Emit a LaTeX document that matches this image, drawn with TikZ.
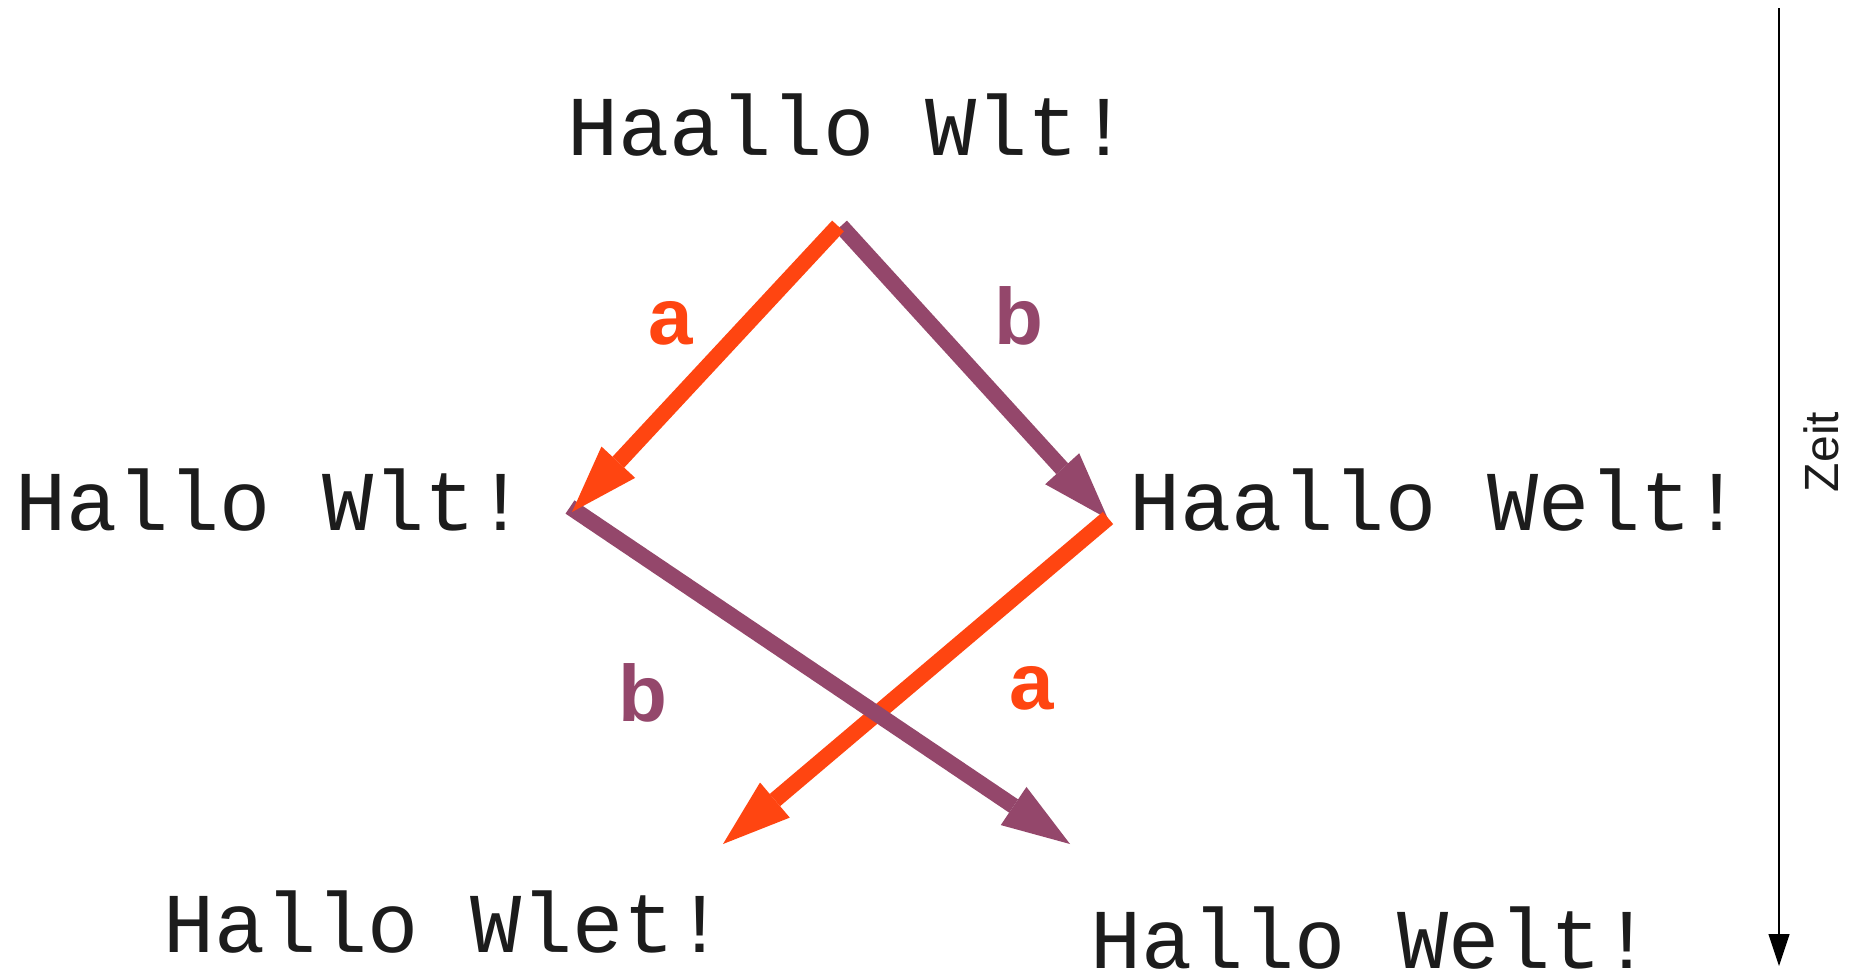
\documentclass[tikz,border=0pt]{standalone}
\usepackage{fontspec}
\setmonofont{Liberation Mono}
\setsansfont{Liberation Sans}
\usetikzlibrary{arrows.meta}
\definecolor{orangeA}{RGB}{255,69,17}
\definecolor{purpleB}{RGB}{148,71,107}
\definecolor{ink}{RGB}{28,28,28}
\tikzset{
  word/.style={inner sep=0pt, anchor=base west, text=ink, font=\ttfamily\fontsize{42.6}{50}\selectfont},
  lbl/.style={inner sep=0pt, anchor=base, font=\sffamily\bfseries\fontsize{40}{46}\selectfont},
  opA/.style={draw=orangeA, line width=8pt, -{Triangle[length=34pt,width=23pt,line width=0pt]}},
  opB/.style={draw=purpleB, line width=8pt, -{Triangle[length=34pt,width=23pt,line width=0pt]}},
  timeaxis/.style={draw=black, line width=0.6pt, -{Triangle[length=16pt,width=10.5pt]}}
}
\begin{document}
\begin{tikzpicture}[x=0.5pt,y=-0.5pt]
\fill[white] (0,0) rectangle (1858,975);
\useasboundingbox (0,0) rectangle (1858,975);
% texts
\node[word] (t0) at (567,155) {Haallo Wlt!};
\node[word] (t1) at (15,530) {Hallo Wlt!};
\node[word] (t2) at (1129,530) {Haallo Welt!};
\node[word] (t3) at (163,952) {Hallo Wlet!};
\node[word] (t4) at (1090,968) {Hallo Welt!};
% connector end points
\coordinate (sA1) at (838,226);
\coordinate (sB1) at (841,226);
\coordinate (eA1) at (572,512);
\coordinate (eB1) at (1108,519);
\coordinate (sB2) at (570,507);
\coordinate (eB2) at (1070,844);
\coordinate (sA2) at (1108,518);
\coordinate (eA2) at (723,844);
% arrows
\draw[opB] (sB1) -- (eB1);
\draw[opA] (sA2) -- (eA2);
\draw[opB] (sB2) -- (eB2);
\draw[opA] (sA1) -- (eA1);
% labels
\node[lbl, text=orangeA] (la1) at (671,344) {a};
\node[lbl, text=purpleB] (lb1) at (1019,344) {b};
\node[lbl, text=purpleB] (lb2) at (643,721) {b};
\node[lbl, text=orangeA] (la2) at (1032,709) {a};
% time axis
\coordinate (z0) at (1779,8);
\coordinate (z1) at (1779,966);
\draw[timeaxis] (z0) -- (z1);
\node[inner sep=0pt, rotate=90, font=\sffamily\fontsize{24}{28}\selectfont, text=ink] (zeit) at (1821,452) {Zeit};
\end{tikzpicture}
\end{document}
